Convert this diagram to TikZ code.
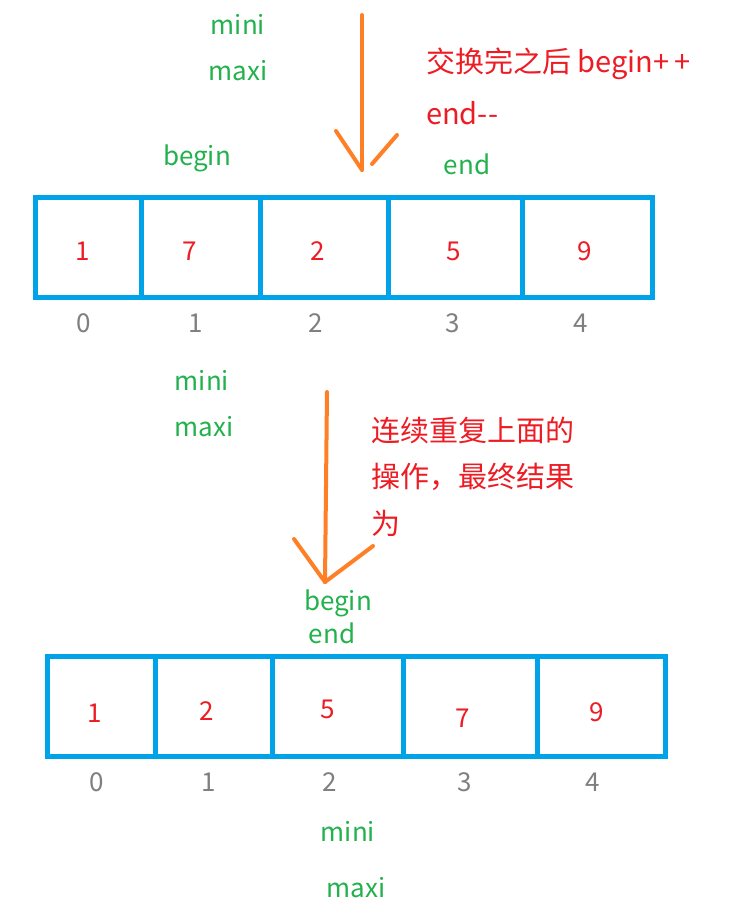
\documentclass[tikz,border=0pt]{standalone}
\usepackage{fontspec}
\setmainfont{Noto Sans CJK SC}
\usepackage{xcolor}
\usetikzlibrary{positioning}
\definecolor{cellblue}{RGB}{0,162,232}
\definecolor{numred}{RGB}{237,28,36}
\definecolor{ptrgreen}{RGB}{34,177,76}
\definecolor{arrorange}{RGB}{255,127,39}
\definecolor{idxgray}{RGB}{127,127,127}

\begin{document}
\begin{tikzpicture}[x=1pt, y=-1pt,
        cell/.style={draw=cellblue, line width=5pt, inner sep=0pt, minimum height=100pt},
        num/.style={text=numred, font=\fontsize{26}{30}\selectfont},
        idx/.style={text=idxgray, font=\fontsize{26}{30}\selectfont},
        ptr/.style={text=ptrgreen, font=\fontsize{26}{30}\selectfont},
        note/.style={text=numred, font=\fontsize{29}{34}\selectfont, anchor=west, inner sep=0pt},
        stroke/.style={draw=arrorange, line width=4pt, line cap=round}]
        \useasboundingbox (0,0) rectangle (751,922);

        % first array
        \foreach \l/\r/\name in {35/141/ca0,141/260/ca1,260/388/ca2,388/522/ca3,522/652/ca4}
            \node[cell, minimum width={\r-\l}] (\name) at ({(\l+\r)/2},247) {};
        \foreach \x/\v/\name in {83/1/na0,190/7/na1,318/2/na2,454/5/na3,585/9/na4}
            \node[num] (\name) at (\x,251) {\v};
        \foreach \x/\v/\name in {84/0/ia0,196/1/ia1,316/2/ia2,453/3/ia3,581/4/ia4}
            \node[idx] (\name) at (\x,323) {\v};

        \node[ptr] (minia) at (238,24) {mini};
        \node[ptr] (maxia) at (238,71) {maxi};
        \node[ptr] (begina) at (197,158) {begin};
        \node[ptr] (enda) at (467,164) {end};

        \node[note] (notea) at (426,64) {交换完之后 begin+\,+};
        \node[note] (noteb) at (426,113) {end-{}-};

        % first arrow
        \coordinate (a1top) at (362,15);
        \coordinate (a1tip) at (362,170);
        \draw[stroke] (a1top) -- (a1tip);
        \draw[stroke] (336,131) -- (a1tip);
        \draw[stroke] (397,135) -- (372,164);

        \node[ptr] (minib) at (202,380) {mini};
        \node[ptr] (maxib) at (204,427) {maxi};

        % second arrow
        \coordinate (a2top) at (327,392);
        \coordinate (a2tip) at (325,582);
        \draw[stroke] (a2top) -- (a2tip);
        \draw[stroke] (294,539) -- (a2tip);
        \draw[stroke] (373,546) -- (a2tip);

        \node[note] (notec) at (371,430) {连续重复上面的};
        \node[note] (noted) at (371,477) {操作，最终结果};
        \node[note] (notee) at (371,523) {为};

        \node[ptr] (beginb) at (338,603) {begin};
        \node[ptr] (endb) at (332,633) {end};

        % second array
        \foreach \l/\r/\name in {47/155/cb0,155/272/cb1,272/403/cb2,403/537/cb3,537/665/cb4}
            \node[cell, minimum width={\r-\l}] (\name) at ({(\l+\r)/2},706) {};
        \foreach \x/\y/\v/\name in {95/713/1/nb0,207/711/2/nb1,328/709/5/nb2,463/718/7/nb3,597/712/9/nb4}
            \node[num] (\name) at (\x,\y) {\v};
        \foreach \x/\v/\name in {97/0/ib0,209/1/ib1,330/2/ib2,465/3/ib3,593/4/ib4}
            \node[idx] (\name) at (\x,782) {\v};

        \node[ptr] (minic) at (348,831) {mini};
        \node[ptr] (maxic) at (356,888) {maxi};
\end{tikzpicture}
\end{document}
